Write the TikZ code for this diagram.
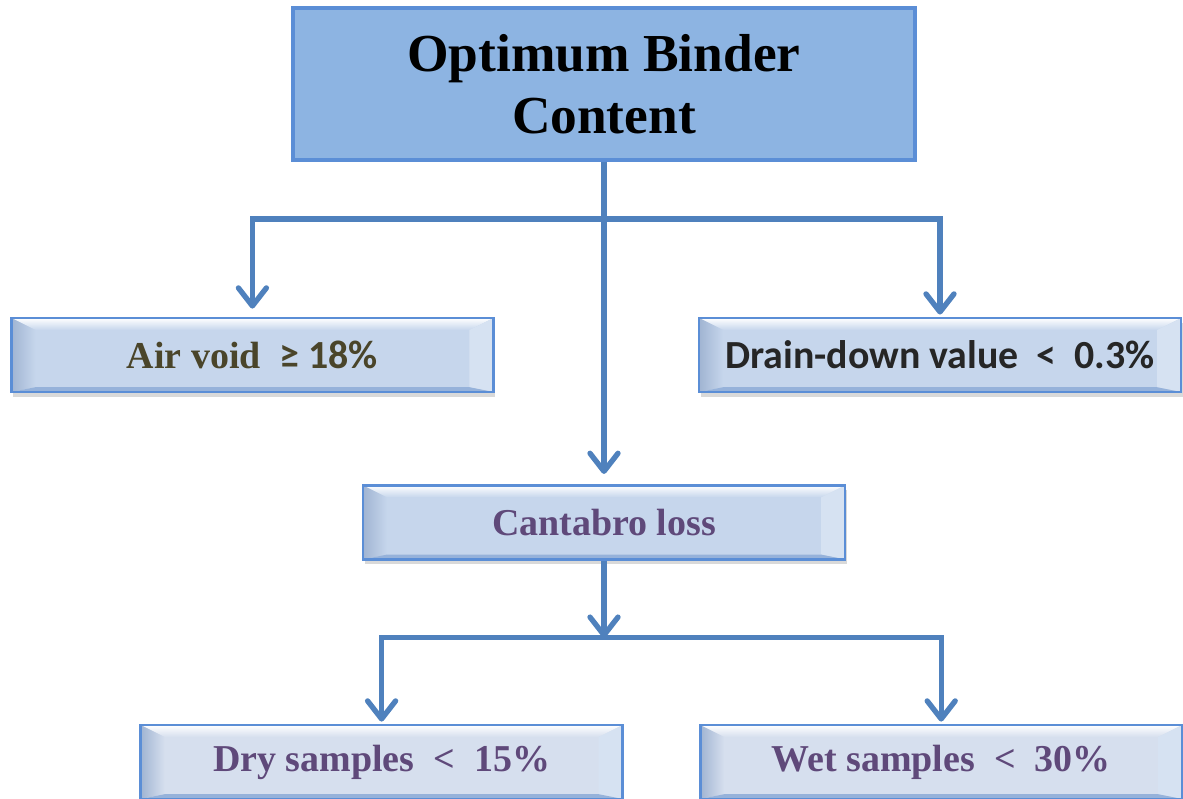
\documentclass[tikz,border=0pt]{standalone}
\usepackage{fontspec}
\setmainfont{Liberation Serif}
\newfontfamily\calibrifont[Scale=1.05]{Carlito}
\usetikzlibrary{%
	calc,%
	arrows.meta,%
	positioning,%
	shadows,%
}
\definecolor{cline}{RGB}{79, 129, 189}
\definecolor{cborder}{RGB}{91, 142, 214}
\definecolor{ctop}{RGB}{141, 180, 226}
\definecolor{cbox}{RGB}{198, 214, 236}
\definecolor{cboxlight}{RGB}{214, 223, 238}
\definecolor{cbevleft}{RGB}{160, 180, 210}
\definecolor{cbevright}{RGB}{214, 226, 242}
\definecolor{cbevbottom}{RGB}{150, 178, 218}
\definecolor{colive}{RGB}{74, 69, 42}
\definecolor{cdark}{RGB}{38, 38, 38}
\definecolor{cpurple}{RGB}{95, 73, 122}
\tikzset{
	>={Straight Barb[length=0.45cm, width=0.7cm, round]},%
	nodes={align=center},%
	titlebox/.style={%
			draw=cborder,%
			line width=2.8pt,%
			fill=ctop,%
			minimum width=15.55cm,%
			minimum height=3.8cm,%
			font=\fontsize{38}{44}\selectfont\bfseries},%
	bevelbox/.style={%
			draw=cborder,%
			line width=2pt,%
			fill=#1,%
			minimum width=12.05cm,%
			minimum height=1.85cm,%
			inner sep=0,%
			font=\fontsize{27}{32}\selectfont\bfseries,%
			drop shadow={shadow xshift=0.4mm, shadow yshift=-1.2mm, opacity=0.3},%
			path picture={%
					\path (path picture bounding box.south west) coordinate (bsw)
					(path picture bounding box.north east) coordinate (bne);
					\shade[top color=white, bottom color=#1] (bsw|-bne) -- (bne) -- ($(bne)+(-0.6,-0.3)$) -- ($(bsw|-bne)+(0.6,-0.3)$) -- cycle;
					\shade[left color=cbevleft, right color=#1] (bsw) -- (bsw|-bne) -- ($(bsw|-bne)+(0.6,-0.3)$) -- ($(bsw)+(0.6,0.12)$) -- cycle;
					\fill[cbevright] (bne) -- (bne|-bsw) -- ($(bne|-bsw)+(-0.6,0.12)$) -- ($(bne)+(-0.6,-0.3)$) -- cycle;
					\fill[cbevbottom] (bsw) -- (bne|-bsw) -- ($(bne|-bsw)+(-0.6,0.12)$) -- ($(bsw)+(0.6,0.12)$) -- cycle;
				}},%
	bevelbox/.default=cbox,%
	flow/.style={->, line width=3.8pt, draw=cline},%
}

\begin{document}
\begin{tikzpicture}
	\useasboundingbox (0,0) rectangle (29.575,-19.975);
	\node[titlebox] (obc) at (15.1,-2.1) {Optimum Binder\\Content};
	\node[bevelbox, text=cpurple] (cl) [below=8.05cm of obc] {Cantabro loss};
	\node[bevelbox, text=colive] (av) at (6.31,-8.875) {Air void\ \ {\calibrifont ≥ 18\%}};
	\node[bevelbox, text=cdark] (dd) at (23.5,-8.875) {\calibrifont Drain-down value\ \ <\ \ 0.3\%};
	\node[bevelbox=cboxlight, text=cpurple] (dry) at (9.54,-19.05) {Dry samples\ \ <\ \ 15\%};
	\node[bevelbox=cboxlight, text=cpurple] (wet) at (23.53,-19.05) {Wet samples\ \ <\ \ 30\%};

	\coordinate (j1) at ($(obc.south)+(0,-1.425)$);
	\coordinate (j2) at ($(cl.south)+(0,-1.925)$);

	\draw[flow, shorten >=0.25cm] (obc) -- (cl);
	\draw[flow, shorten >=0.2cm] (j1) -| (av);
	\draw[flow, shorten >=0.05cm] (j1) -| (dd);
	\draw[flow] (cl) -- (j2);
	\draw[flow, shorten >=0.05cm] (j2) -| (dry);
	\draw[flow, shorten >=0.05cm] (j2) -| (wet);
\end{tikzpicture}
\end{document}
